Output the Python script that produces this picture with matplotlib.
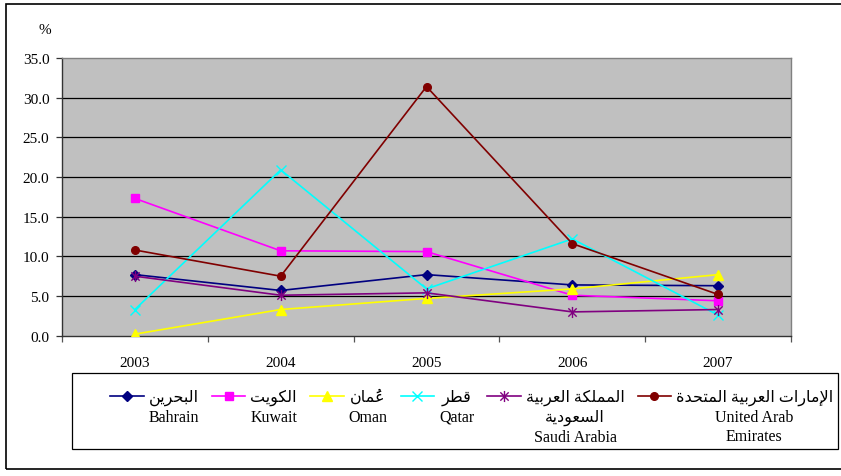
import matplotlib
matplotlib.use("Agg")
import matplotlib.pyplot as plt
from matplotlib.patches import Rectangle
from matplotlib.path import Path
from matplotlib.font_manager import FontProperties
from matplotlib.ticker import FixedLocator, FormatStrFormatter

# ---------------- data ----------------
years = ['2003', '2004', '2005', '2006', '2007']
bahrain = [7.7, 5.7, 7.7, 6.4, 6.3]
kuwait = [17.3, 10.7, 10.6, 5.1, 4.4]
oman = [0.2, 3.3, 4.7, 5.9, 7.7]
qatar = [3.3, 20.9, 5.9, 12.2, 2.6]
saudi = [7.5, 5.1, 5.4, 3.0, 3.3]
uae = [10.8, 7.5, 31.4, 11.6, 5.2]

names_ar = [['البحرين'], ['الكويت'], ['عُمان'], ['قطر'],
            ['المملكة العربية', 'السعودية'], ['الإمارات العربية المتحدة']]
names_en = ['Bahrain', 'Kuwait', 'Oman', 'Qatar', 'Saudi Arabia', 'United Arab\nEmirates']
yticks = [0, 5, 10, 15, 20, 25, 30, 35]

# ---------------- minimal Arabic shaping ----------------
FORMS = {
    '\u0627': ('\uFE8D', '\uFE8E', None, None),
    '\u0625': ('\uFE87', '\uFE88', None, None),
    '\u0623': ('\uFE83', '\uFE84', None, None),
    '\u0628': ('\uFE8F', '\uFE90', '\uFE91', '\uFE92'),
    '\u0629': ('\uFE93', '\uFE94', None, None),
    '\u062A': ('\uFE95', '\uFE96', '\uFE97', '\uFE98'),
    '\u062D': ('\uFEA1', '\uFEA2', '\uFEA3', '\uFEA4'),
    '\u062F': ('\uFEA9', '\uFEAA', None, None),
    '\u0631': ('\uFEAD', '\uFEAE', None, None),
    '\u0633': ('\uFEB1', '\uFEB2', '\uFEB3', '\uFEB4'),
    '\u0637': ('\uFEC1', '\uFEC2', '\uFEC3', '\uFEC4'),
    '\u0639': ('\uFEC9', '\uFECA', '\uFECB', '\uFECC'),
    '\u0642': ('\uFED5', '\uFED6', '\uFED7', '\uFED8'),
    '\u0643': ('\uFED9', '\uFEDA', '\uFEDB', '\uFEDC'),
    '\u0644': ('\uFEDD', '\uFEDE', '\uFEDF', '\uFEE0'),
    '\u0645': ('\uFEE1', '\uFEE2', '\uFEE3', '\uFEE4'),
    '\u0646': ('\uFEE5', '\uFEE6', '\uFEE7', '\uFEE8'),
    '\u0648': ('\uFEED', '\uFEEE', None, None),
    '\u064A': ('\uFEF1', '\uFEF2', '\uFEF3', '\uFEF4'),
}
LAMALEF = {'\u0627': ('\uFEFB', '\uFEFC'), '\u0625': ('\uFEF9', '\uFEFA'),
           '\u0623': ('\uFEF7', '\uFEF8')}


def is_mark(c):
    return '\u064B' <= c <= '\u0652'


def shape_line(text):
    """Join Arabic letters into presentation forms and lay them out visually (LTR)."""
    clusters = []
    for c in text:
        if is_mark(c) and clusters:
            clusters[-1][1].append(c)
        else:
            clusters.append([c, []])
    merged = []
    i = 0
    while i < len(clusters):
        b, m = clusters[i]
        if b == '\u0644' and i + 1 < len(clusters) and clusters[i + 1][0] in LAMALEF:
            merged.append(['LA' + clusters[i + 1][0], m + clusters[i + 1][1]])
            i += 2
        else:
            merged.append([b, m])
            i += 1

    def dual(b):
        return b in FORMS and FORMS[b][2] is not None

    def joins(b):
        return b in FORMS or b.startswith('LA')

    out = []
    for i, (b, m) in enumerate(merged):
        prev = merged[i - 1][0] if i > 0 else None
        nxt = merged[i + 1][0] if i + 1 < len(merged) else None
        jp = prev is not None and dual(prev)
        if b.startswith('LA'):
            g = LAMALEF[b[2]][1 if jp else 0]
        elif b in FORMS:
            f = FORMS[b]
            jn = dual(b) and nxt is not None and joins(nxt)
            if jp and jn:
                g = f[3]
            elif jp:
                g = f[1]
            elif jn:
                g = f[2]
            else:
                g = f[0]
        else:
            g = b
        out.append(''.join(m) + g)
    return ''.join(reversed(out))


labels = ['\n'.join(shape_line(l) for l in ar) + '\n' + en
          for ar, en in zip(names_ar, names_en)]

# ---------------- figure ----------------
SERIF = ['Liberation Serif', 'DejaVu Sans']
fig = plt.figure(figsize=(8.41, 4.77), dpi=100)
fig.patch.set_facecolor('white')

# outer border
fig.patches.append(Rectangle((6 / 841, 7 / 477), 1.05, (470 - 5) / 477,
                             transform=fig.transFigure, fill=False,
                             edgecolor='black', linewidth=1.2, clip_on=False))
# legend frame
fig.patches.append(Rectangle((72 / 841, 1 - 450 / 477), (838 - 72) / 841, (450 - 374) / 477,
                             transform=fig.transFigure, fill=False,
                             edgecolor='black', linewidth=0.9, clip_on=False))

ax = fig.add_axes([62 / 841, 1 - 336.7 / 477, (791 - 62) / 841, (336.7 - 59) / 477])
ax.set_facecolor('#c0c0c0')

x = list(range(len(years)))
star_marker = Path([(0, -1), (0, 1), (-0.75, -0.75), (0.75, 0.75), (-0.75, 0.75), (0.75, -0.75)],
                   [Path.MOVETO, Path.LINETO, Path.MOVETO, Path.LINETO, Path.MOVETO, Path.LINETO])

series = [
    (bahrain, '#000080', 'D', 5.0),
    (kuwait, '#ff00ff', 's', 5.5),
    (oman, '#ffff00', '^', 6.5),
    (qatar, '#00ffff', 'x', 7.0),
    (saudi, '#800080', star_marker, 8.0),
    (uae, '#800000', 'o', 5.5),
]
handles = []
for vals, col, mk, ms in series:
    h, = ax.plot(x, vals, color=col, linewidth=1.2, marker=mk, markersize=ms,
                 markerfacecolor=col, markeredgecolor=col, markeredgewidth=1.0, zorder=3)
    handles.append(h)

ax.set_xlim(-0.5, len(years) - 0.5)
ax.set_ylim(0, 35)
ax.yaxis.set_major_locator(FixedLocator(yticks))
ax.yaxis.set_major_formatter(FormatStrFormatter('%.1f'))
ax.set_xticks(x)
ax.set_xticklabels(years)
ax.xaxis.set_minor_locator(FixedLocator([i - 0.5 for i in range(len(years) + 1)]))

for g in yticks[1:-1]:
    ax.axhline(g, color='black', linewidth=0.9, zorder=1)

ax.tick_params(axis='x', which='major', length=0, pad=14.5, labelsize=11)
ax.tick_params(axis='x', which='minor', length=4.5, width=0.9, color='#555555', direction='out')
ax.tick_params(axis='y', which='major', length=4, width=0.9, color='#333333', direction='out',
               pad=5, labelsize=11)
for lab in ax.get_xticklabels() + ax.get_yticklabels():
    lab.set_family(SERIF)

ax.spines['left'].set_color('#333333')
ax.spines['bottom'].set_color('#333333')
ax.spines['top'].set_color('#808080')
ax.spines['right'].set_color('#808080')
for s in ax.spines.values():
    s.set_linewidth(1.0)

fig.text(45 / 841, 1 - 30 / 477, '%', ha='center', va='center', fontsize=11, family=SERIF)

# legend (frame drawn separately)
leg = fig.legend(handles, labels, ncol=6, mode='expand', loc='upper left',
                 bbox_to_anchor=(110 / 841, 0.0, (833 - 110) / 841, 1 - 390 / 477),
                 bbox_transform=fig.transFigure,
                 prop=FontProperties(family=SERIF, size=11.5),
                 frameon=False,
                 handlelength=2.1, handleheight=1.45, handletextpad=0.3,
                 borderpad=0, borderaxespad=0)
for t in leg.get_texts():
    t.set_multialignment('center')
    t.set_linespacing(1.3)
try:
    hb = leg._legend_handle_box
    hb.align = 'top'
    for col in hb.get_children():
        col.align = 'center'
        for item in col.get_children():
            item.align = 'top'
except Exception:
    pass

fig.savefig('out.png', dpi=100, facecolor='white')
